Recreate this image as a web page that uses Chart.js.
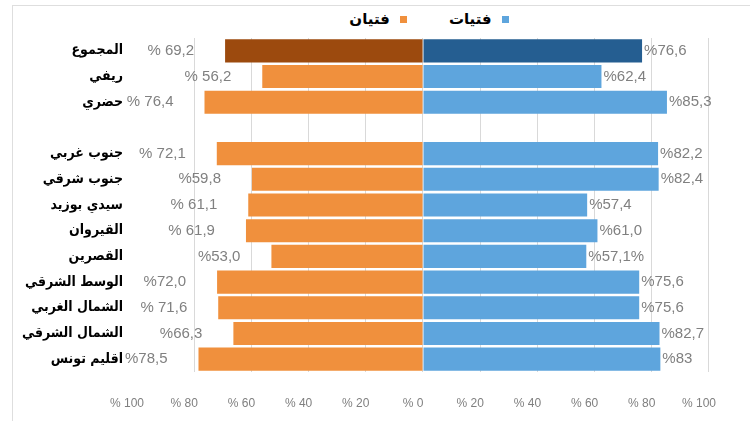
<!DOCTYPE html>
<html lang="ar" dir="ltr">
<head>
<meta charset="utf-8">
<script src="https://cdn.jsdelivr.net/npm/chart.js@4.4.0/dist/chart.umd.min.js"></script>
<style>
  body { margin: 0; background: #fff; overflow: hidden; }
  #frame { position: absolute; left: 12px; top: 5px; width: 800px; height: 500px; border: 1px solid #dedede; }
  #wrap { position: absolute; left: 0; top: 0; width: 750px; height: 421px; }
  #legend {
    position: absolute; top: 10px; left: 0; width: 858px;
    display: flex; justify-content: center; direction: rtl; gap: 42px;
    font: bold 15px "DejaVu Sans", sans-serif; color: #000;
  }
  #legend .item { display: flex; align-items: center; }
  #legend .box { width: 7px; height: 7px; margin-left: 10px; }
</style>
</head>
<body>
<div id="frame"></div>
<div id="legend"></div>
<div id="wrap"><canvas id="myChart"></canvas></div>
<script>
// rows from top to bottom, '' is the empty row between the groups
const categories = [
  "المجموع", "ريفي", "حضري", "",
  "جنوب غربي", "جنوب شرقي", "سيدي بوزيد", "القيروان", "القصرين",
  "الوسط الشرقي", "الشمال الغربي", "الشمال الشرقي", "اقليم تونس"
];

// girls (right side)
const girls = [76.6, 62.4, 85.3, null, 82.2, 82.4, 57.4, 61.0, 57.1, 75.6, 75.6, 82.7, 83];
const girlsText = ["%76,6", "%62,4", "%85,3", "", "%82,2", "%82,4", "%57,4", "%61,0", "%57,1%", "%75,6", "%75,6", "%82,7", "%83"];

// boys (left side)
const boys = [69.2, 56.2, 76.4, null, 72.1, 59.8, 61.1, 61.9, 53.0, 72.0, 71.6, 66.3, 78.5];
const boysText = ["% 69,2", "% 56,2", "% 76,4", "", "% 72,1", "%59,8", "% 61,1", "% 61,9", "%53,0", "%72,0", "% 71,6", "%66,3", "%78,5"];

const girlsColor = "#5EA5DD";
const girlsTotalColor = "#255E91";
const boysColor = "#F0903D";
const boysTotalColor = "#9C4A0E";

// html legend, first item on the right
const legendItems = [
  { text: "فتيات", color: girlsColor },
  { text: "فتيان", color: boysColor }
];
const legendBox = document.getElementById("legend");
for (let i = 0; i < legendItems.length; i++) {
  const item = document.createElement("div");
  item.className = "item";
  item.innerHTML = '<span class="box" style="background:' + legendItems[i].color + '"></span><span>' + legendItems[i].text + "</span>";
  legendBox.appendChild(item);
}

// value text next to each bar
const valueLabels = {
  id: "valueLabels",
  afterDatasetsDraw(chart) {
    const ctx = chart.ctx;
    ctx.save();
    ctx.direction = "ltr";
    ctx.font = '15px "Liberation Sans", Arial, sans-serif';
    ctx.fillStyle = "#808080";
    ctx.textBaseline = "middle";
    chart.getDatasetMeta(0).data.forEach((bar, i) => {
      if (!girlsText[i]) return;
      ctx.textAlign = "left";
      ctx.fillText(girlsText[i], bar.x + 2, bar.y);
    });
    chart.getDatasetMeta(1).data.forEach((bar, i) => {
      if (!boysText[i]) return;
      ctx.textAlign = "right";
      ctx.fillText(boysText[i], bar.x - 31, bar.y);
    });
    ctx.restore();
  }
};

const data = {
  labels: categories,
  datasets: [
    {
      label: "فتيات",
      data: girls,
      backgroundColor: girls.map((v, i) => (i === 0 ? girlsTotalColor : girlsColor)),
      barPercentage: 0.9,
      categoryPercentage: 1
    },
    {
      label: "فتيان",
      data: boys.map(v => (v === null ? null : -v)),
      backgroundColor: boys.map((v, i) => (i === 0 ? boysTotalColor : boysColor)),
      barPercentage: 0.9,
      categoryPercentage: 1
    }
  ]
};

const config = {
  type: "bar",
  data: data,
  plugins: [valueLabels],
  options: {
    indexAxis: "y",
    responsive: true,
    maintainAspectRatio: false,
    animation: false,
    layout: { padding: { top: 38, right: 35, bottom: 0, left: 0 } },
    plugins: {
      legend: { display: false },
      tooltip: { enabled: false }
    },
    scales: {
      x: {
        stacked: true,
        min: -100,
        max: 100,
        ticks: {
          stepSize: 20,
          autoSkip: false,
          maxRotation: 0,
          padding: 24,
          labelOffset: -10,
          color: "#7f7f7f",
          font: { family: '"Liberation Sans", Arial, sans-serif', size: 12 },
          callback: v => "% " + Math.abs(v)
        },
        grid: {
          drawTicks: false,
          color: c => (c.tick && c.tick.value === -100 ? "rgba(0,0,0,0)" : "#d9d9d9")
        },
        border: { display: false },
        afterFit: s => { s.height = 49; }
      },
      y: {
        stacked: true,
        ticks: {
          padding: 6,
          color: "#000",
          font: { family: '"DejaVu Sans Condensed", "DejaVu Sans", sans-serif', size: 14, weight: "bold" }
        },
        grid: { display: false },
        border: { display: false },
        afterFit: s => { s.width = 137; }
      }
    }
  }
};

const myChart = new Chart(document.getElementById("myChart"), config);
</script>
</body>
</html>
